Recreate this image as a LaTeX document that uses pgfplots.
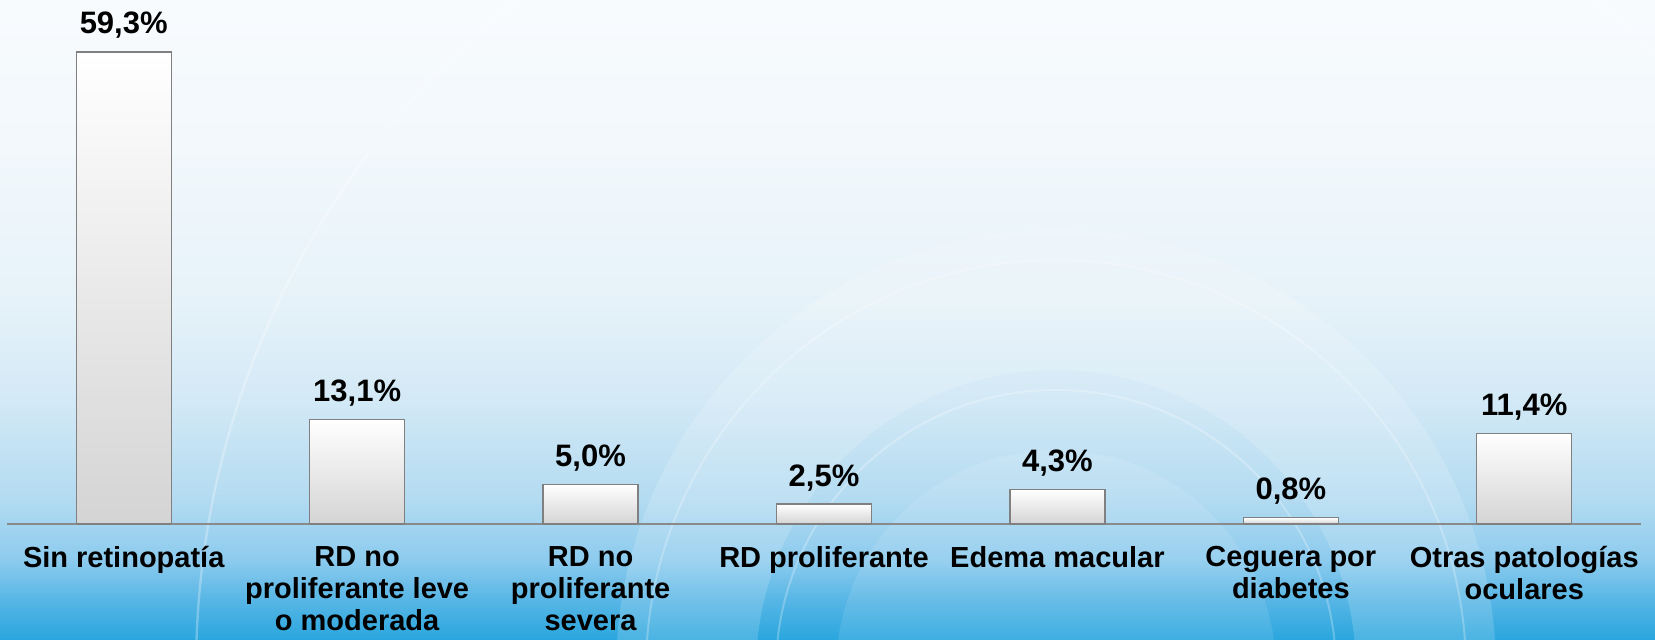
\documentclass[border=0pt]{standalone}
\usepackage{pgfplots}
\pgfplotsset{compat=1.18}
\usepackage{fontspec}
\setmainfont{Liberation Sans}

\definecolor{bg0}{HTML}{29A6DE}
\definecolor{bg1}{HTML}{55B5E5}
\definecolor{bg2}{HTML}{8CCBEE}
\definecolor{bg3}{HTML}{B3DBF1}
\definecolor{bg4}{HTML}{D3E9F6}
\definecolor{bg5}{HTML}{E6F2F9}
\definecolor{bg6}{HTML}{F2F8FC}
\definecolor{bg7}{HTML}{F8FBFE}
\definecolor{barbot}{HTML}{D4D4D4}
\definecolor{baseline}{HTML}{8A8A8A}

% stops sit between 25bp and 75bp, the part that tikz fits to the path
\pgfdeclareverticalshading{slidebg}{100bp}{color(0bp)=(bg0); color(25bp)=(bg0);
  color(28bp)=(bg1); color(31.25bp)=(bg2); color(36bp)=(bg3); color(43.75bp)=(bg4);
  color(51.5bp)=(bg5); color(63.5bp)=(bg6); color(75bp)=(bg7); color(100bp)=(bg7)}

\pgfplotsset{bevelbar/.style={draw=black!50, line width=0.6pt, top color=white, middle color=white, bottom color=barbot}}

\begin{document}
\begin{tikzpicture}
\path[use as bounding box] (0,0) rectangle (827.5pt,320pt);
\shade[shading=slidebg] (0,0) rectangle (827.5pt,320pt);
% faint decorative rings
\begin{scope}
\clip (0,0) rectangle (827.5pt,320pt);
\fill[white, opacity=0.16, even odd rule] (528pt,-15pt) circle (220pt) (528pt,-15pt) circle (150pt);
\draw[white, opacity=0.25, line width=1pt] (528pt,-15pt) circle (205pt);
\draw[white, opacity=0.25, line width=1pt] (528pt,-15pt) circle (140pt);
\draw[white, opacity=0.28, line width=1.2pt] (528pt,-15pt) circle (430pt);
\fill[white, opacity=0.10] (528pt,-15pt) circle (110pt);
\end{scope}

\begin{axis}[
  at={(3.5pt,58pt)}, anchor=south west,
  scale only axis,
  width=817pt, height=262pt,
  xmin=-0.5, xmax=6.5,
  ymin=0, ymax=65.83,
  ybar, bar width=47.5pt, bar shift=0pt,
  hide y axis,
  axis x line*=bottom,
  x axis line style={-, draw=baseline, line width=1pt},
  xtick={0,...,6},
  xticklabels={Sin retinopatía, RD no\\proliferante leve\\o moderada, RD no\\proliferante\\severa, RD proliferante, Edema macular, Ceguera por\\diabetes, Otras patologías\\oculares},
  major tick length=0pt,
  xticklabel style={align=center, font=\fontsize{14.5}{16}\selectfont\bfseries, anchor=north, inner sep=0pt, yshift=-11pt},
  nodes near coords={\pgfmathprintnumber[assume math mode=true, use comma, fixed, fixed zerofill, precision=1]{\pgfplotspointmeta}\%},
  every node near coord/.append style={text=black, font=\fontsize{15.5}{18}\selectfont\bfseries, anchor=base, inner sep=0pt, yshift=9pt},
  clip=false,
]
\addplot[bevelbar] coordinates {(0,59.3)};
\addplot[bevelbar] coordinates {(1,13.1)};
\addplot[bevelbar] coordinates {(2,5.0)};
\addplot[bevelbar] coordinates {(3,2.5)};
\addplot[bevelbar] coordinates {(4,4.3)};
\addplot[bevelbar] coordinates {(5,0.8)};
\addplot[bevelbar] coordinates {(6,11.4)};
\end{axis}
\end{tikzpicture}
\end{document}
